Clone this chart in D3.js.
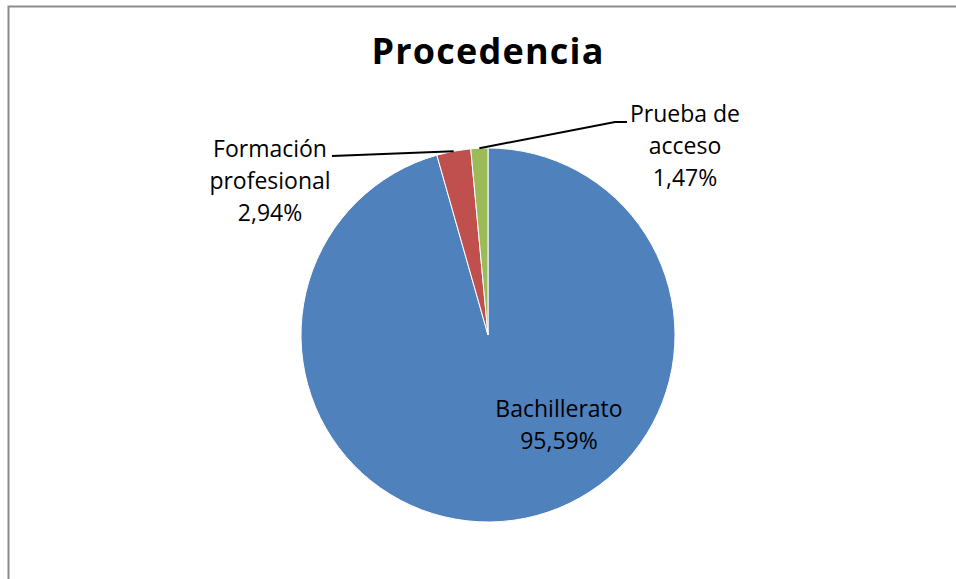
<!DOCTYPE html>
<html>
<head>
<meta charset="utf-8">
<script src="https://cdn.jsdelivr.net/npm/d3@7"></script>
<style>
  body { margin: 0; background: #fff; }
  svg { display: block; }
</style>
</head>
<body>
<div id="pie"></div>
<script>
// data
var categories = ["Bachillerato", "Formación profesional", "Prueba de acceso"];
var values = [95.59, 2.94, 1.47];
var colors = ["#4F81BD", "#C0504D", "#9BBB59"];
var title = "Procedencia";

var width = 956, height = 579;
var cx = 488, cy = 335, radius = 187;

// label lines and leader ends, relative to the pie centre
var labelLayout = [
  { x: 71, y: 82, lines: ["Bachillerato"], leader: null },
  { x: -218, y: -178, lines: ["Formación", "profesional"], leader: [[-156, -179]] },
  { x: 197, y: -213, lines: ["Prueba de", "acceso"], leader: [[127, -213], [139, -213]] }
];

var data = categories.map(function (c, i) {
  return { name: c, value: values[i], color: colors[i] };
});

var fmt = function (v) { return d3.format(".2f")(v).replace(".", ",") + "%"; };

var svg = d3.select("#pie").append("svg")
  .attr("width", width)
  .attr("height", height);

svg.append("rect")
  .attr("width", width)
  .attr("height", height)
  .attr("fill", "#fff");

// chart frame (only the left and top edges are in view)
svg.append("rect")
  .attr("x", 8.5)
  .attr("y", 6.5)
  .attr("width", 1000)
  .attr("height", 700)
  .attr("fill", "none")
  .attr("stroke", "#8c8c8c")
  .attr("stroke-width", 2);

svg.append("text")
  .attr("x", 488)
  .attr("y", 64)
  .attr("text-anchor", "middle")
  .style("font-family", "'Open Sans', sans-serif")
  .style("font-weight", "bold")
  .style("font-size", "36px")
  .style("letter-spacing", "1.2px")
  .text(title);

var pie = d3.pie()
  .sort(null)
  .value(function (d) { return d.value; });

var arc = d3.arc()
  .innerRadius(0)
  .outerRadius(radius);

var edge = d3.arc()
  .innerRadius(radius)
  .outerRadius(radius);

var g = svg.append("g")
  .attr("transform", "translate(" + cx + "," + cy + ")");

var arcs = pie(data);

g.selectAll("path.slice")
  .data(arcs)
  .enter().append("path")
  .attr("class", "slice")
  .attr("d", arc)
  .attr("fill", function (d) { return d.data.color; })
  .attr("stroke", "#fff")
  .attr("stroke-width", 1);

// leader lines
arcs.forEach(function (d, i) {
  var lay = labelLayout[i];
  if (!lay.leader) return;
  var pts = [edge.centroid(d)].concat(lay.leader);
  g.append("path")
    .attr("d", d3.line()(pts))
    .attr("fill", "none")
    .attr("stroke", "#000")
    .attr("stroke-width", 2);
});

// labels
arcs.forEach(function (d, i) {
  var lay = labelLayout[i];
  var lines = lay.lines.concat([fmt(d.data.value)]);
  var t = g.append("text")
    .attr("text-anchor", "middle")
    .style("font-family", "'Open Sans', sans-serif")
    .style("font-size", "23px")
    .attr("fill", "#000");
  lines.forEach(function (s, j) {
    t.append("tspan")
      .attr("x", lay.x)
      .attr("y", lay.y + j * 32)
      .text(s);
  });
});
</script>
</body>
</html>
